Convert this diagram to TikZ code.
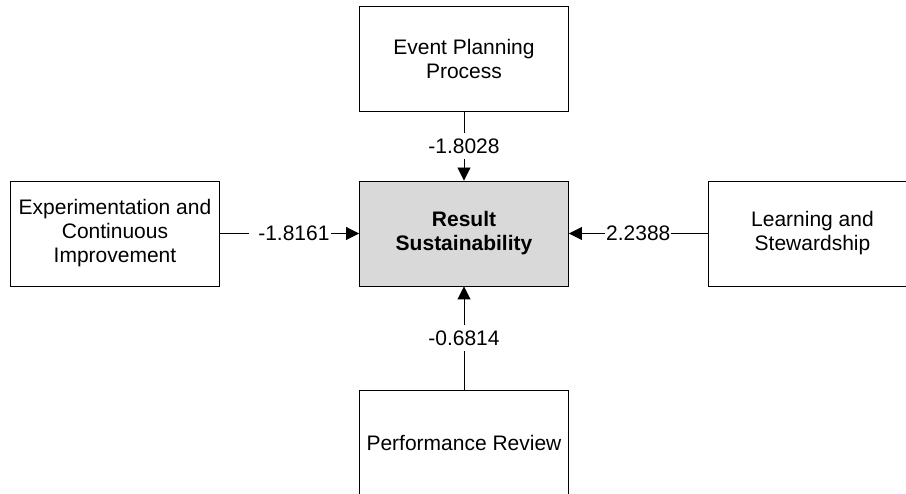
\documentclass[tikz,border=0pt]{standalone}
\usepackage{fontspec}
\setmainfont{Liberation Sans}
\usetikzlibrary{arrows.meta}
\tikzset{
  factor/.style={draw=black, line width=0.9pt, fill=white, minimum width=209pt,
    minimum height=105pt, align=center, inner sep=2pt,
    font=\fontsize{21pt}{24pt}\selectfont},
  outcome/.style={factor, fill=gray!30, font=\fontsize{21pt}{24pt}\selectfont\bfseries},
  link/.style={draw=black, line width=0.9pt, -{Triangle[length=13pt,width=13pt]}},
  coef/.style={fill=white, inner xsep=1pt, inner ysep=6pt,
    font=\fontsize{21pt}{24pt}\selectfont}
}
\begin{document}
\begin{tikzpicture}[x=1pt, y=-1pt]
  \useasboundingbox (0,0) rectangle (906,494);
  \node[outcome] (res) at (464,233.5) {Result\\Sustainability};
  \node[factor] (plan) at (464,58.5) {Event Planning\\Process};
  \node[factor] (expt) at (115,233.5) {Experimentation and\\Continuous\\Improvement};
  \node[factor] (learn) at (812.5,233.5) {Learning and\\Stewardship};
  \node[factor] (perf) at (464,442.5) {Performance Review};

  \draw[link] (plan) -- node[coef] {-1.8028} (res);
  \draw[link] (expt) -- node[coef, text width=80pt, align=right] {-1.8161} (res);
  \draw[link] (learn) -- node[coef] {2.2388} (res);
  \draw[link] (perf) -- node[coef] {-0.6814} (res);
\end{tikzpicture}
\end{document}
